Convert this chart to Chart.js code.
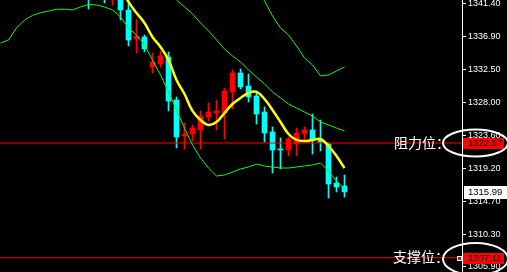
<!DOCTYPE html>
<html>
<head>
<meta charset="utf-8">
<script src="https://cdn.jsdelivr.net/npm/chart.js@4.4.0/dist/chart.umd.min.js"></script>
<style>
  html, body { margin: 0; padding: 0; background: #000; overflow: hidden; }
  #wrap { width: 507px; height: 272px; position: relative; }
</style>
</head>
<body>
<div id="wrap"><canvas id="myChart"></canvas></div>
<script>
// bar index of the first candle in the arrays (earlier bars are above the window)
const firstCandle = 11;

const opens  = [1343.00, 1343.40, 1343.20, 1342.00, 1342.30, 1340.50, 1336.59, 1336.86, 1332.82, 1333.22, 1334.16,
                1328.37, 1323.52, 1323.79, 1324.33, 1326.08, 1326.62, 1326.62, 1329.45, 1332.01, 1330.25, 1328.91,
                1326.75, 1324.06, 1321.76, 1321.63, 1322.44, 1323.79, 1324.33, 1323.11, 1322.44, 1317.18, 1316.78];
const highs  = [1343.50, 1344.00, 1343.80, 1343.40, 1342.80, 1341.90, 1339.15, 1337.13, 1334.70, 1334.97, 1334.84,
                1328.77, 1325.27, 1325.00, 1326.89, 1327.96, 1328.37, 1329.98, 1332.41, 1332.55, 1331.87, 1329.58,
                1327.43, 1324.73, 1323.25, 1323.38, 1324.60, 1324.73, 1326.48, 1325.67, 1322.57, 1317.99, 1318.26];
const lows   = [1340.63, 1342.30, 1341.44, 1341.17, 1339.15, 1335.65, 1334.70, 1334.84, 1332.01, 1332.82, 1326.89,
                1321.90, 1321.76, 1322.84, 1321.76, 1325.54, 1324.33, 1323.11, 1327.16, 1329.85, 1328.10, 1325.13,
                1322.71, 1318.53, 1319.07, 1320.82, 1320.82, 1322.98, 1321.09, 1321.50, 1315.16, 1315.97, 1315.30];
const closes = [1342.20, 1343.00, 1342.30, 1342.90, 1340.50, 1336.45, 1336.99, 1335.24, 1333.49, 1334.30, 1328.23,
                1323.38, 1323.79, 1324.60, 1326.21, 1326.75, 1326.89, 1329.58, 1332.01, 1330.12, 1328.77, 1326.48,
                1323.92, 1321.63, 1321.63, 1323.11, 1323.92, 1324.33, 1322.98, 1322.71, 1317.05, 1316.64, 1315.99];

// bollinger bands and moving average, each with the bar index it starts at
const lowerStart = 0;
const bandLower = [1336.05, 1336.45, 1338.07, 1339.15, 1339.76, 1340.13, 1340.36, 1340.59, 1340.59, 1340.50, 1340.90,
                   1341.24, 1341.17, 1340.90, 1340.50, 1339.55, 1338.07, 1337.13, 1335.78, 1333.76, 1331.74, 1329.45,
                   1327.02, 1324.59, 1322.30, 1320.55, 1319.20, 1318.13, 1318.26, 1318.66, 1319.07, 1319.34, 1319.74,
                   1319.47, 1319.34, 1319.20, 1319.20, 1319.34, 1319.47, 1319.61, 1319.88, 1318.80, 1317.45, 1316.37];
const midStart = 21;
const bandMid = [1343.06, 1341.85, 1340.90, 1339.96, 1338.75, 1337.67, 1336.45, 1335.24, 1334.30, 1333.49, 1332.41,
                 1331.47, 1330.52, 1329.45, 1328.64, 1327.83, 1327.29, 1326.75, 1326.21, 1325.40, 1325.00, 1324.59, 1324.19];
const upperStart = 32;
const bandUpper = [1343.46, 1341.71, 1339.69, 1338.07, 1337.13, 1335.65, 1334.03, 1333.09, 1331.60, 1331.74, 1332.28, 1332.82];
const maStart = 15;
const maLine = [1343.46, 1341.58, 1340.09, 1338.75, 1336.86, 1335.51, 1333.76, 1331.06, 1329.18, 1326.89, 1325.67,
                1325.00, 1325.40, 1326.62, 1327.83, 1328.64, 1329.31, 1329.45, 1328.50, 1327.02, 1325.40, 1323.79,
                1322.98, 1322.84, 1322.98, 1323.11, 1322.17, 1320.82, 1319.20];

const yTicks = [1341.40, 1336.90, 1332.50, 1328.00, 1323.60, 1319.20, 1314.70, 1310.30, 1305.90];
const resistance = 1322.57;
const support = 1307.11;
const lastPrice = 1315.99;
const resistanceText = '阻力位：';
const supportText = '支撑位：';

const xMin = -0.0625, xMax = 57.6875;
const yMin = 1305.19, yMax = 1341.84;

const candleColor = (k) => closes[k] >= opens[k] ? '#ff0000' : '#00ffff';
const wickData = opens.map((_, k) => ({ x: firstCandle + k, y: [lows[k], highs[k]] }));
const bodyData = opens.map((_, k) => ({ x: firstCandle + k, y: [opens[k], closes[k]] }));

function toPoints(start, vals) {
  return vals.map((v, k) => ({ x: start + k, y: v }));
}

const background = {
  id: 'background',
  beforeDraw(chart) {
    const ctx = chart.ctx;
    ctx.save();
    ctx.fillStyle = '#000';
    ctx.fillRect(0, 0, chart.width, chart.height);
    ctx.restore();
  }
};

// price tags, circles and chinese labels on the right
const levelLabels = {
  id: 'levelLabels',
  afterDraw(chart) {
    const ctx = chart.ctx;
    const ys = chart.scales.y;
    const right = chart.chartArea.right;
    const yr = Math.round(ys.getPixelForValue(resistance));
    const yS = Math.round(ys.getPixelForValue(support));
    const yl = Math.round(ys.getPixelForValue(lastPrice));
    ctx.save();

    // last price box
    ctx.fillStyle = '#fff';
    ctx.fillRect(right + 2, yl - 6, 507 - right - 2, 13);
    ctx.fillStyle = '#000';
    ctx.font = '9.5px "Liberation Sans"';
    ctx.textBaseline = 'middle';
    ctx.fillText(lastPrice.toFixed(2), right + 6, yl + 0.5);

    // red level tags
    [[resistance, yr], [support, yS]].forEach(([v, py]) => {
      ctx.fillStyle = '#ff0000';
      ctx.fillRect(right + 1, py - 5, 41, 11);
      ctx.fillStyle = '#000';
      ctx.fillText(v.toFixed(2), right + 6, py + 0.5);
    });

    // small square at end of support line
    ctx.fillStyle = '#fff';
    ctx.fillRect(right - 5, yS - 2, 5, 5);
    ctx.fillStyle = '#ff0000';
    ctx.fillRect(right - 4, yS - 1, 3, 3);

    // circles
    ctx.strokeStyle = '#fff';
    ctx.lineWidth = 2;
    ctx.beginPath();
    ctx.ellipse(right + 13.5, yr, 32.5, 13.5, 0, 0, Math.PI * 2);
    ctx.stroke();
    ctx.beginPath();
    ctx.ellipse(right + 13.5, yS + 1, 32.5, 16, 0, 0, Math.PI * 2);
    ctx.stroke();

    // text
    ctx.fillStyle = '#fff';
    ctx.font = '14px "Noto Sans CJK SC"';
    ctx.fillText(resistanceText, 394, yr);
    ctx.fillText(supportText, 393, yS - 1);
    ctx.restore();
  }
};

const ctx = document.getElementById('myChart').getContext('2d');
const chart = new Chart(ctx, {
  type: 'bar',
  data: {
    datasets: [
      {
        type: 'line', data: toPoints(maStart, maLine),
        borderColor: '#ffff00', borderWidth: 2.5, pointRadius: 0, tension: 0.4, order: 0
      },
      {
        type: 'line', data: toPoints(upperStart, bandUpper),
        borderColor: '#00ff00', borderWidth: 1, pointRadius: 0, tension: 0, order: 1
      },
      {
        type: 'line', data: toPoints(midStart, bandMid),
        borderColor: '#00ff00', borderWidth: 1, pointRadius: 0, tension: 0, order: 1
      },
      {
        type: 'line', data: toPoints(lowerStart, bandLower),
        borderColor: '#00ff00', borderWidth: 1, pointRadius: 0, tension: 0, order: 1
      },
      {
        type: 'line', data: [{ x: xMin, y: resistance }, { x: xMax, y: resistance }],
        borderColor: '#ff0000', borderWidth: 1, pointRadius: 0, order: 2
      },
      {
        type: 'line', data: [{ x: xMin, y: support }, { x: xMax, y: support }],
        borderColor: '#ff0000', borderWidth: 1, pointRadius: 0, order: 2
      },
      {
        data: bodyData, grouped: false, barThickness: 5, minBarLength: 1,
        backgroundColor: (c) => candleColor(c.dataIndex), order: 3
      },
      {
        data: wickData, grouped: false, barThickness: 1,
        backgroundColor: (c) => candleColor(c.dataIndex), order: 4
      }
    ]
  },
  options: {
    responsive: true,
    maintainAspectRatio: false,
    animation: false,
    layout: { padding: 0 },
    plugins: { legend: { display: false }, tooltip: { enabled: false } },
    scales: {
      x: { type: 'linear', min: xMin, max: xMax, offset: false, display: false },
      y: {
        type: 'linear', position: 'right', min: yMin, max: yMax,
        afterBuildTicks: (scale) => { scale.ticks = yTicks.map(v => ({ value: v })); },
        afterFit: (scale) => { scale.width = 45; scale.paddingTop = 0; scale.paddingBottom = 0; },
        grid: { drawOnChartArea: false, drawTicks: true, tickLength: 4, color: '#fff', tickColor: '#fff' },
        border: { display: true, color: '#fff', width: 1 },
        ticks: {
          autoSkip: false, padding: 2, color: '#fff',
          font: { family: '"Liberation Sans"', size: 9 },
          callback: (v) => Number(v).toFixed(2)
        }
      }
    }
  },
  plugins: [background, levelLabels]
});
</script>
</body>
</html>
